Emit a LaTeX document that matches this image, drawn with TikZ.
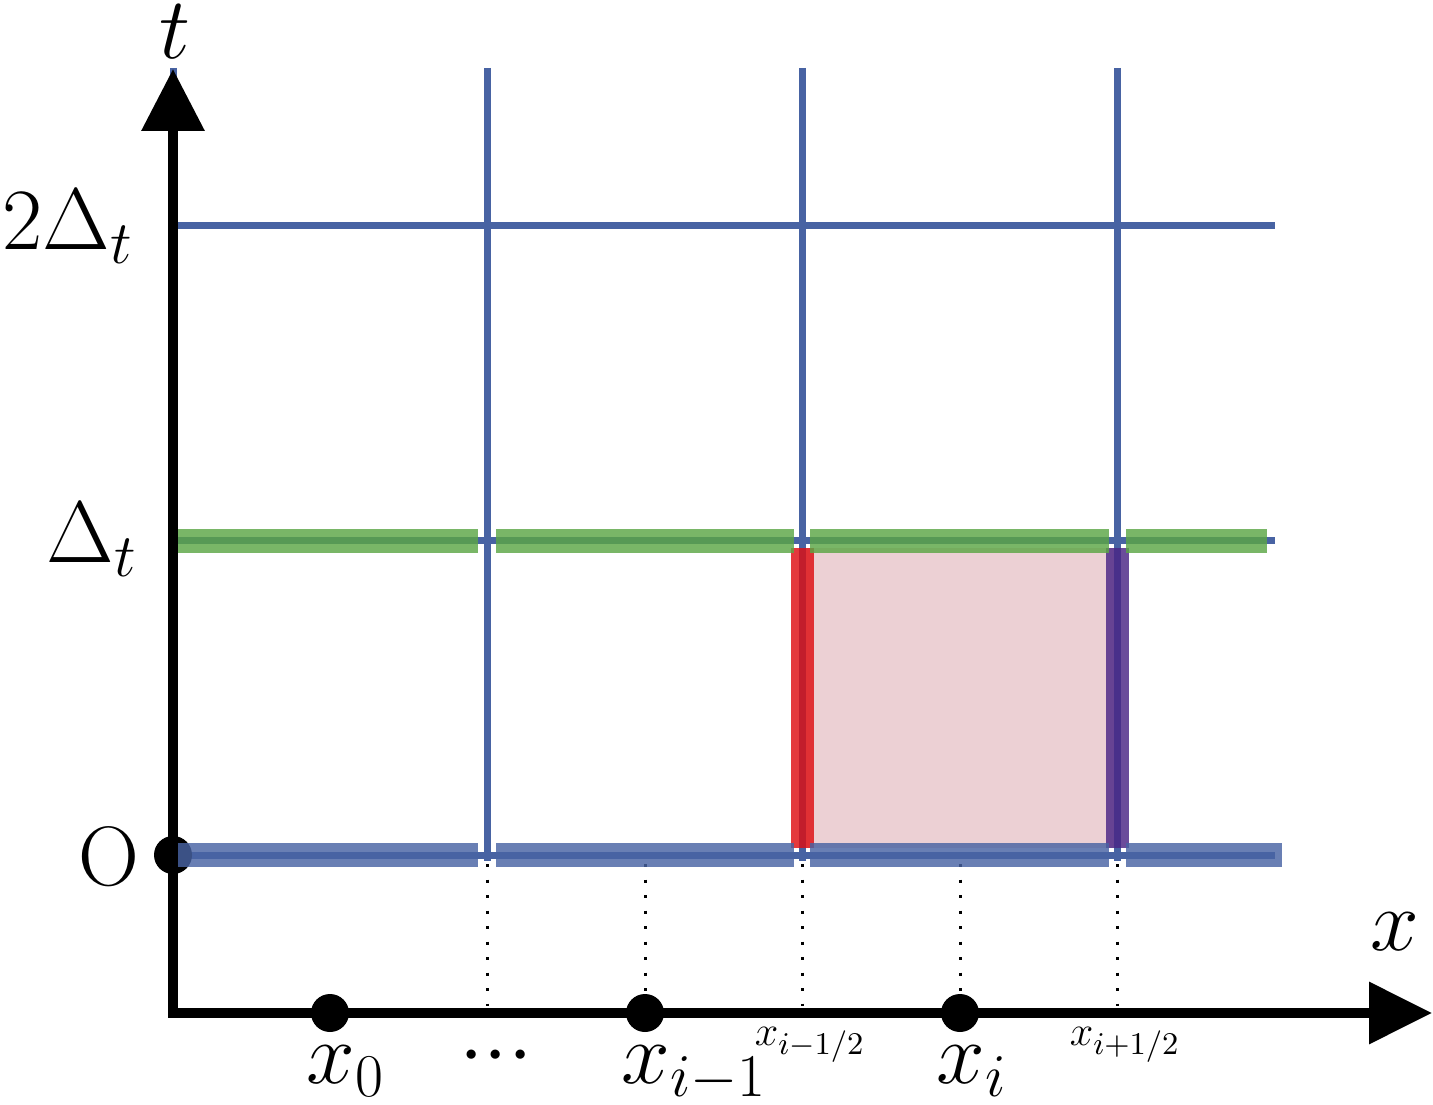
\documentclass[tikz,border=0pt]{standalone}
\usetikzlibrary{arrows.meta}
\definecolor{gridblue}{RGB}{72,99,163}
\definecolor{bandgreen}{RGB}{91,166,69}
\definecolor{bandred}{RGB}{222,14,18}
\definecolor{bandpurple}{RGB}{74,37,133}
\definecolor{cellpink}{RGB}{236,208,212}
\begin{document}
\begin{tikzpicture}[x=0.1mm,y=-0.1mm,
  gridline/.style={draw=gridblue, line width=0.7mm},
  guide/.style={draw=black, line width=0.3mm, dash pattern=on 0.3mm off 1.25mm},
  hband/.style={line width=2.35mm, opacity=0.82},
  vband/.style={line width=2.3mm, opacity=0.82},
  bigfont/.style={font=\fontsize{24}{29}\selectfont},
  smallfont/.style={font=\fontsize{13}{15}\selectfont},
  gridpt/.style={fill=black, circle, inner sep=0pt, minimum size=3.8mm}]
\useasboundingbox (0,0) rectangle (1433,1105);

% named positions
\coordinate (O) at (173,855);
\coordinate (a0) at (173,1013);
\coordinate (tend) at (173,69);
\coordinate (xend) at (1432,1013);

% shaded cell
\fill[cellpink] (802,548) rectangle (1117,848);

% thin grid lines
\foreach \y in {226,541,855} \draw[gridline] (173,\y) -- (1275,\y);
\foreach \x in {173,487,802,1117} \draw[gridline] (\x,68) -- (\x,861);

% dotted guides
\foreach \x in {487,645,802,960,1117} \draw[guide] (\x,864) -- (\x,1006);

% axes
\draw[line width=1mm, line join=miter,
  {Triangle[length=6.2mm,width=6.1mm]}-{Triangle[length=6.3mm,width=6mm]}]
  (tend) -- (a0) -- (xend);

% points
\node[gridpt] (p0) at (O) {};
\node[gridpt] (px0) at (330,1013) {};
\node[gridpt] (pxim) at (645,1013) {};
\node[gridpt] (pxi) at (960,1013) {};

% vertical bands
\draw[vband, bandred] (802,548) -- (802,848);
\draw[vband, bandpurple] (1117,548) -- (1117,848);

% horizontal bands
\foreach \a/\b in {178/478,496/794,810/1109,1126/1267}
  \draw[hband, bandgreen] (\a,541) -- (\b,541);
\foreach \a/\b in {178/478,496/794,810/1109,1126/1282}
  \draw[hband, gridblue] (\a,855) -- (\b,855);

% labels
\node[bigfont, inner sep=0pt] (tlab) at (175,32) {$t$};
\node[bigfont, anchor=base west, inner sep=0pt] (l2dt) at (2,250) {$2\Delta_t$};
\node[bigfont, anchor=base west, inner sep=0pt] (ldt) at (46,563) {$\Delta_t$};
\node[bigfont, anchor=base east, inner sep=0pt] (lO) at (140,885) {O};
\node[bigfont] (xlab) at (1395,932) {$x$};
\node[bigfont, anchor=base west, inner sep=0pt] (lx0) at (306,1083) {$x_0$};
\node[bigfont, inner sep=0pt] (ldots) at (496,1057) {${\cdot}{\cdot}{\cdot}$};
\node[bigfont, anchor=base west, inner sep=0pt] (lxim) at (621,1083) {$x_{i-1}$};
\node[bigfont, anchor=base west, inner sep=0pt] (lxi) at (936,1083) {$x_i$};
\node[smallfont] (lxmh) at (810,1045) {$x_{i-1/2}$};
\node[smallfont] (lxph) at (1125,1045) {$x_{i+1/2}$};
\end{tikzpicture}
\end{document}
